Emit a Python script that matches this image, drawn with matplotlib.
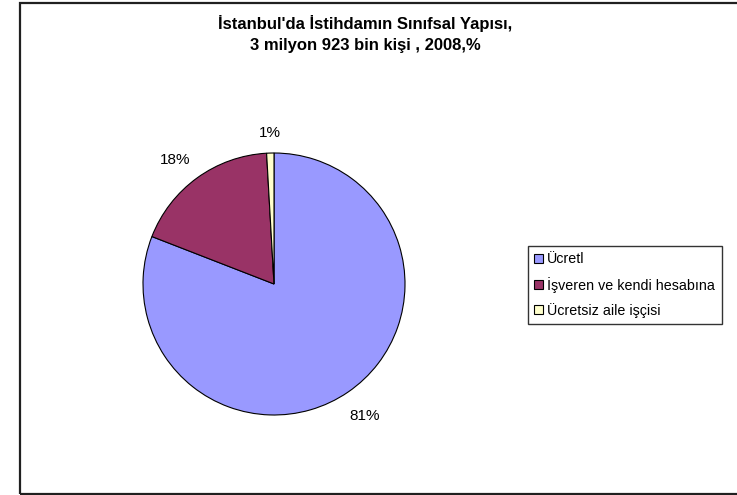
import numpy as np
import matplotlib
matplotlib.use("Agg")
import matplotlib.pyplot as plt
from matplotlib.patches import Rectangle

plt.rcParams['font.family'] = ['Liberation Sans', 'DejaVu Sans']

categories = ["Ücretl", "İşveren ve kendi hesabına", "Ücretsiz aile işçisi"]
values = [80.9, 18.2, 0.9]
labels = ["81%", "18%", "1%"]
colors = ["#9999FF", "#993366", "#FFFFCC"]
title = "İstanbul'da İstihdamın Sınıfsal Yapısı,\n3 milyon 923 bin kişi , 2008,%"

W, H = 737, 495
fig = plt.figure(figsize=(W / 100, H / 100), dpi=100)

# outer chart frame
fig.patches.append(Rectangle((20 / W, 1.5 / H), 730 / W, 491 / H, transform=fig.transFigure,
                             fill=False, edgecolor="#202020", linewidth=1.6))

cx, cy, r = 274, 284, 131
ax = fig.add_axes([(cx - r) / W, (H - cy - r) / H, 2 * r / W, 2 * r / H])
wedges, _ = ax.pie(values, colors=colors, startangle=90, counterclock=False,
                   wedgeprops=dict(edgecolor="black", linewidth=0.8), radius=1.0)
ax.set_xlim(-1, 1)
ax.set_ylim(-1, 1)
ax.set_aspect('equal')
ax.axis('off')

dists = [1.22, 1.21, 1.15]
for w, lab, d in zip(wedges, labels, dists):
    ang = np.deg2rad((w.theta1 + w.theta2) / 2 + (2.5 if lab == "18%" else 0))
    ax.text(d * np.cos(ang), d * np.sin(ang), lab, ha='center', va='center',
            fontsize=11, clip_on=False)

fig.text(365 / W, 1 - 34 / H, title, ha='center', va='center', fontsize=12,
         fontweight='bold', linespacing=1.42)

leg = fig.legend(wedges, categories, loc='center left',
                 bbox_to_anchor=(528 / W, 1 - 285 / H), bbox_transform=fig.transFigure,
                 fontsize=10.3, frameon=True, fancybox=False, shadow=False,
                 handlelength=0.6, handleheight=0.6, handletextpad=0.3,
                 labelspacing=0.72, borderpad=0.45, borderaxespad=0)
leg.get_frame().set_edgecolor('black')
leg.get_frame().set_linewidth(1.0)

fig.savefig("out.png", dpi=100)
